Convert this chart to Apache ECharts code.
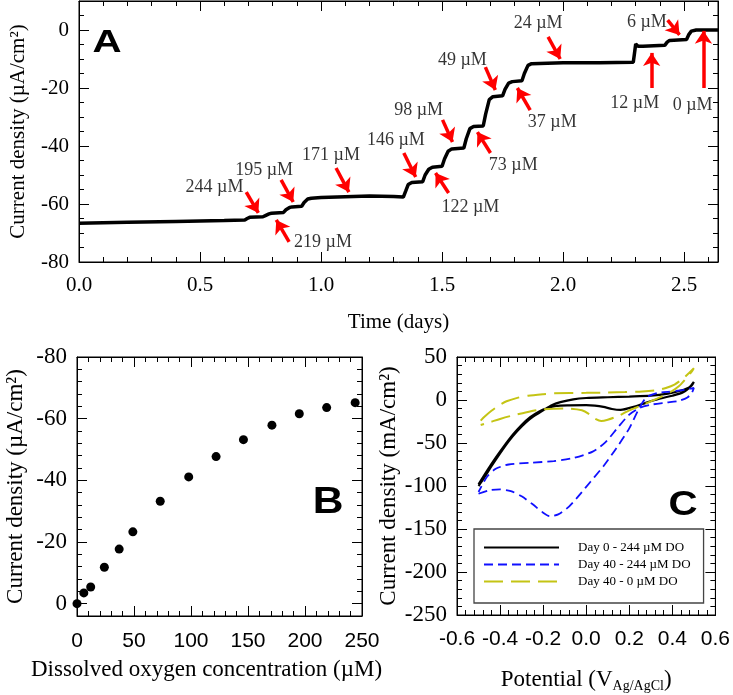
<!DOCTYPE html>
<html><head><meta charset="utf-8">
<script src="https://cdn.jsdelivr.net/npm/echarts@6/dist/echarts.min.js"></script>
<style>html,body{margin:0;padding:0;background:#fff}#c{width:733px;height:695px}</style>
</head><body><div id="c"></div>
<script>
// ---------- Panel A: current density vs time ----------
const timeDays = [0,0.2,0.4,0.6,0.685,0.695,0.705,0.76,0.77,0.785,0.795,0.845,0.855,0.87,0.88,0.92,0.93,0.945,0.96,1.0,1.1,1.2,1.3,1.34,
  1.35,1.36,1.375,1.42,1.43,1.445,1.46,1.50,1.51,1.525,1.54,1.59,1.60,1.615,1.63,1.67,1.68,1.695,1.71,1.75,1.76,1.775,1.79,1.83,1.84,1.855,1.87,
  2.0,2.15,2.29,2.295,2.30,2.31,2.33,2.42,2.43,2.44,2.51,2.52,2.53,2.55,2.64];
const currentA = [-66.6,-66.3,-66.0,-65.7,-65.5,-65.0,-64.6,-64.4,-64.0,-63.4,-63.2,-62.9,-62.0,-61.2,-61.0,-60.8,-59.5,-58.3,-58.0,-57.8,-57.5,-57.2,-57.4,-57.6,
  -55.5,-53.3,-52.6,-52.3,-50.0,-48.0,-47.3,-47.0,-44.5,-41.8,-41.0,-40.7,-37.5,-34.0,-33.3,-33.1,-29.0,-24.0,-23.0,-22.7,-20.5,-18.3,-17.8,-17.5,-15.0,-12.2,-11.6,
  -11.3,-11.3,-11.1,-8.0,-4.8,-5.6,-5.6,-5.3,-4.2,-3.6,-3.3,-1.5,-0.4,0,0];
const annoLabels = ['244 µM','195 µM','171 µM','219 µM','146 µM','98 µM','49 µM','24 µM','6 µM','122 µM','73 µM','37 µM','12 µM','0 µM'];
const annoTextT  = [0.560,0.765,1.041,1.008,1.309,1.403,1.584,1.897,2.346,1.617,1.794,1.955,2.296,2.535];
const annoTextY  = [-54.1,-48.3,-43.1,-73.1,-37.9,-27.6,-10.3,2.4,2.8,-61.0,-46.6,-31.7,-25.2,-25.9];
const arrowTailT = [0.691,0.835,1.062,0.868,1.342,1.502,1.679,1.938,2.432,1.527,1.700,1.864,2.366,2.580];
const arrowTailY = [-55.9,-51.7,-47.6,-73.1,-42.4,-31.0,-12.8,-2.4,3.4,-56.2,-42.4,-27.6,-20.0,-20.0];
const arrowHeadT = [0.741,0.885,1.115,0.815,1.391,1.543,1.720,1.988,2.481,1.473,1.646,1.811,2.366,2.580];
const arrowHeadY = [-63.1,-59.3,-55.9,-65.5,-50.7,-38.6,-20.7,-10.0,-1.7,-49.3,-35.2,-20.0,-7.9,-0.3];

// ---------- Panel B: current density vs DO ----------
const doConc   = [0,6,12,24,37,49,73,98,122,146,171,195,219,244];
const currentB = [0,-3.5,-5.4,-11.8,-17.7,-23.3,-33.2,-41.1,-47.7,-53.2,-57.9,-61.6,-63.6,-65.2];

// ---------- Panel C: cyclic voltammograms ----------
const cvNames = ['Day 0 - 244 µM DO','Day 40 - 244 µM DO','Day 40 - 0 µM DO'];
const cv1E = [-0.5,-0.475,-0.44,-0.4,-0.36,-0.32,-0.28,-0.245,-0.2,-0.16,-0.12,-0.06,0.0,0.1,0.2,0.3,0.38,0.44,0.48,0.5,
  0.49,0.45,0.4,0.34,0.28,0.22,0.16,0.12,0.08,0.04,0,-0.08,-0.14,-0.18,-0.22,-0.26,-0.3,-0.34,-0.38,-0.42,-0.46,-0.5];
const cv1I = [-100,-91,-77,-62,-48,-36,-26,-19,-12,-6,-2.5,0.8,2.3,3.2,4,5,7.5,11,15,21,
  17,9,5,1.5,-3,-8,-11.5,-10.5,-8,-6.5,-6,-6.3,-7,-9.5,-13.5,-20,-29,-40,-53,-67,-82,-98];
const cv2E = [-0.5,-0.45,-0.4,-0.35,-0.3,-0.25,-0.2,-0.17,-0.13,-0.08,-0.03,0.02,0.08,0.14,0.2,0.245,0.28,0.33,0.4,0.46,0.5,
  0.49,0.47,0.43,0.37,0.3,0.25,0.2,0.15,0.09,0.03,-0.06,-0.15,-0.26,-0.36,-0.42,-0.46,-0.5];
const cv2I = [-109,-105,-104,-106,-112,-121,-131,-135,-133,-124,-110,-95,-77,-56,-33,-10,3,8,10,12,14,
  8,3,-1,-3,-5.5,-9,-17,-31,-49,-60,-67.5,-71,-73,-75,-80,-89,-107];
const cv3E = [-0.49,-0.47,-0.44,-0.4,-0.37,-0.32,-0.27,-0.2,-0.15,0,0.1,0.18,0.26,0.33,0.37,0.41,0.45,0.48,0.5,
  0.49,0.46,0.43,0.39,0.35,0.3,0.25,0.2,0.15,0.1,0.07,0.04,0.015,-0.02,-0.08,-0.15,-0.22,-0.29,-0.35,-0.4,-0.45,-0.49];
const cv3I = [-24,-19,-12.5,-5.5,-1.5,2.5,5,6.8,7.7,8.3,8.7,9.2,10,11.5,14,18,25,32,37,
  33,24,16,9,4,-1.5,-7,-12,-18.5,-23,-24.5,-21.5,-16.5,-12,-10,-10.2,-11.5,-15,-18.5,-22,-26,-29];

// ---------- build ----------
const SERIF = 'Liberation Serif', SANS = 'Liberation Sans';
const AXCOL = '#000';
const zip = (a, b) => a.map((v, i) => [v, b[i]]);
const xAxes = [], yAxes = [];
function axisObj(c, position, interval, isMajor, withLabels) {
  const o = {
    type: 'value', gridIndex: c.grid, min: c.min, max: c.max, inverse: !!c.inverse,
    position: position, interval: interval,
    splitLine: {show: false},
    axisLine: {show: isMajor, onZero: false, lineStyle: {color: AXCOL, width: 1}},
    axisTick: {show: true, inside: true, length: isMajor ? 10 : 5, lineStyle: {color: AXCOL, width: 1}},
    axisLabel: {show: false}
  };
  if (withLabels) {
    o.axisLabel = {show: true, margin: c.margin, fontFamily: c.font, fontSize: c.fontSize, color: '#000',
      formatter: c.fmt, showMinLabel: true, showMaxLabel: c.showMax};
    o.name = c.name; o.nameLocation = 'middle'; o.nameGap = c.nameGap; o.nameTextStyle = c.nameStyle;
  }
  return o;
}
function makeAxes(list, dim, c) {
  const main = list.length;
  const pos = dim === 'x' ? ['bottom', 'top'] : ['left', 'right'];
  list.push(axisObj(c, pos[0], c.major, true, true));
  list.push(axisObj(c, pos[0], c.minor, false, false));
  list.push(axisObj(c, pos[1], c.major, true, false));
  list.push(axisObj(c, pos[1], c.minor, false, false));
  return main;
}
const f1 = v => (Math.abs(v) < 1e-9 ? 0 : v).toFixed(1);
const fi = v => String(Math.round(v));
const titleA = () => ({fontFamily: SERIF, fontSize: 21, color: '#000'});
const titleBC = () => ({fontFamily: SERIF, fontSize: 23, color: '#000'});

const axA_x = makeAxes(xAxes, 'x', {grid: 0, min: 0, max: 2.64, major: 0.5, minor: 0.1, margin: 13, font: SERIF, fontSize: 21, fmt: f1, showMax: false,
  name: 'Time (days)', nameGap: 50, nameStyle: titleA()});
const axA_y = makeAxes(yAxes, 'y', {grid: 0, min: -80, max: 10, major: 20, minor: 5, margin: 10, font: SERIF, fontSize: 21, fmt: fi, showMax: false,
  name: 'Current density (µA/cm²)', nameGap: 50, nameStyle: titleA()});
const axB_x = makeAxes(xAxes, 'x', {grid: 1, min: 0, max: 250, major: 50, minor: 10, margin: 15, font: SANS, fontSize: 21, fmt: fi, showMax: true,
  name: 'Dissolved oxygen concentration (µM)', nameGap: 42, nameStyle: Object.assign({padding: [0, 26, 0, 0]}, titleBC())});
const axB_y = makeAxes(yAxes, 'y', {grid: 1, min: -80, max: 4, inverse: true, major: 20, minor: 4, margin: 10, font: SERIF, fontSize: 23, fmt: fi, showMax: false,
  name: 'Current density (µA/cm²)', nameGap: 50, nameStyle: titleBC()});
const axC_x = makeAxes(xAxes, 'x', {grid: 2, min: -0.6, max: 0.6, major: 0.2, minor: 0.04, margin: 14, font: SANS, fontSize: 21, fmt: f1, showMax: true,
  name: 'Potential (V{s|Ag/AgCl})', nameGap: 52,
  nameStyle: Object.assign({rich: {s: {fontFamily: SERIF, fontSize: 14, color: '#000', padding: [12, 0, 0, 0]}}}, titleBC())});
const axC_y = makeAxes(yAxes, 'y', {grid: 2, min: -250, max: 50, major: 50, minor: 10, margin: 10, font: SERIF, fontSize: 23, fmt: fi, showMax: true,
  name: 'Current density (mA/cm²)', nameGap: 55, nameStyle: titleBC()});

const arrowData = arrowTailT.map((t, i) => [{coord: [t, arrowTailY[i]]}, {coord: [arrowHeadT[i], arrowHeadY[i]]}]);
const annoData = annoLabels.map((s, i) => ({name: s, value: [annoTextT[i], annoTextY[i]]}));
const cvColors = ['#000000', '#1010ff', '#c4c414'];
const cvData = [zip(cv1E, cv1I), zip(cv2E, cv2I), zip(cv3E, cv3I)];
const cvLine = [{width: 2.2, type: 'solid'}, {width: 1.8, type: [9, 5]}, {width: 2, type: [19, 8]}];

const series = [
  {type: 'line', name: 'A', xAxisIndex: axA_x, yAxisIndex: axA_y, data: zip(timeDays, currentA), symbol: 'none',
    lineStyle: {color: '#000', width: 3.5}, z: 3,
    markLine: {silent: true, symbol: ['none', 'arrow'], symbolSize: 13, label: {show: false},
      lineStyle: {color: '#ff0000', width: 3.5, type: 'solid'}, emphasis: {disabled: true}, data: arrowData}},
  {type: 'scatter', name: 'labels', xAxisIndex: axA_x, yAxisIndex: axA_y, data: annoData, symbolSize: 1,
    itemStyle: {color: 'rgba(0,0,0,0)'},
    label: {show: true, position: 'inside', formatter: p => p.name, fontFamily: SERIF, fontSize: 18, color: '#000'}},
  {type: 'scatter', name: 'B', xAxisIndex: axB_x, yAxisIndex: axB_y, data: zip(doConc, currentB), symbol: 'circle', symbolSize: 9,
    itemStyle: {color: '#000', opacity: 1}}
];
cvNames.forEach((n, i) => series.push({type: 'line', name: n, xAxisIndex: axC_x, yAxisIndex: axC_y, data: cvData[i],
  symbol: 'none', showSymbol: false, smooth: 0.25, itemStyle: {color: cvColors[i]},
  lineStyle: Object.assign({color: cvColors[i]}, cvLine[i])}));

const chart = echarts.init(document.getElementById('c'), null, {renderer: 'canvas'});
chart.setOption({
  animation: false,
  grid: [
    {left: 77, top: 1, width: 641, height: 261, containLabel: false, show: true, borderColor: AXCOL, borderWidth: 1, backgroundColor: 'transparent'},
    {left: 77, top: 357, width: 285, height: 259, containLabel: false, show: true, borderColor: AXCOL, borderWidth: 1, backgroundColor: 'transparent'},
    {left: 457, top: 357, width: 261, height: 258, containLabel: false, show: true, borderColor: AXCOL, borderWidth: 1, backgroundColor: 'transparent'}
  ],
  xAxis: xAxes,
  yAxis: yAxes,
  legend: {data: cvNames, orient: 'vertical', left: 474, top: 529, padding: [12, 13, 15, 9], itemWidth: 75, itemHeight: 14, itemGap: 4,
    backgroundColor: '#fff', borderColor: '#444', borderWidth: 1.3, selectedMode: false, z: 8,
    itemStyle: {color: 'rgba(0,0,0,0)', borderWidth: 0, opacity: 0},
    textStyle: {fontFamily: SERIF, fontSize: 13, color: '#000', padding: [0, 0, 0, 14]}},
  graphic: [
    {type: 'text', x: 107, y: 43, scaleX: 1.3, z: 10, style: {text: 'A', fontFamily: SANS, fontWeight: 'bold', fontSize: 31, fill: '#000', align: 'center', verticalAlign: 'middle', textAlign: 'center', textVerticalAlign: 'middle'}},
    {type: 'text', x: 328, y: 503, scaleX: 1.15, z: 10, style: {text: 'B', fontFamily: SANS, fontWeight: 'bold', fontSize: 37, fill: '#000', align: 'center', verticalAlign: 'middle', textAlign: 'center', textVerticalAlign: 'middle'}},
    {type: 'text', x: 683, y: 505, scaleX: 1.15, z: 10, style: {text: 'C', fontFamily: SANS, fontWeight: 'bold', fontSize: 35, fill: '#000', align: 'center', verticalAlign: 'middle', textAlign: 'center', textVerticalAlign: 'middle'}}
  ],
  series: series
});
</script></body></html>
